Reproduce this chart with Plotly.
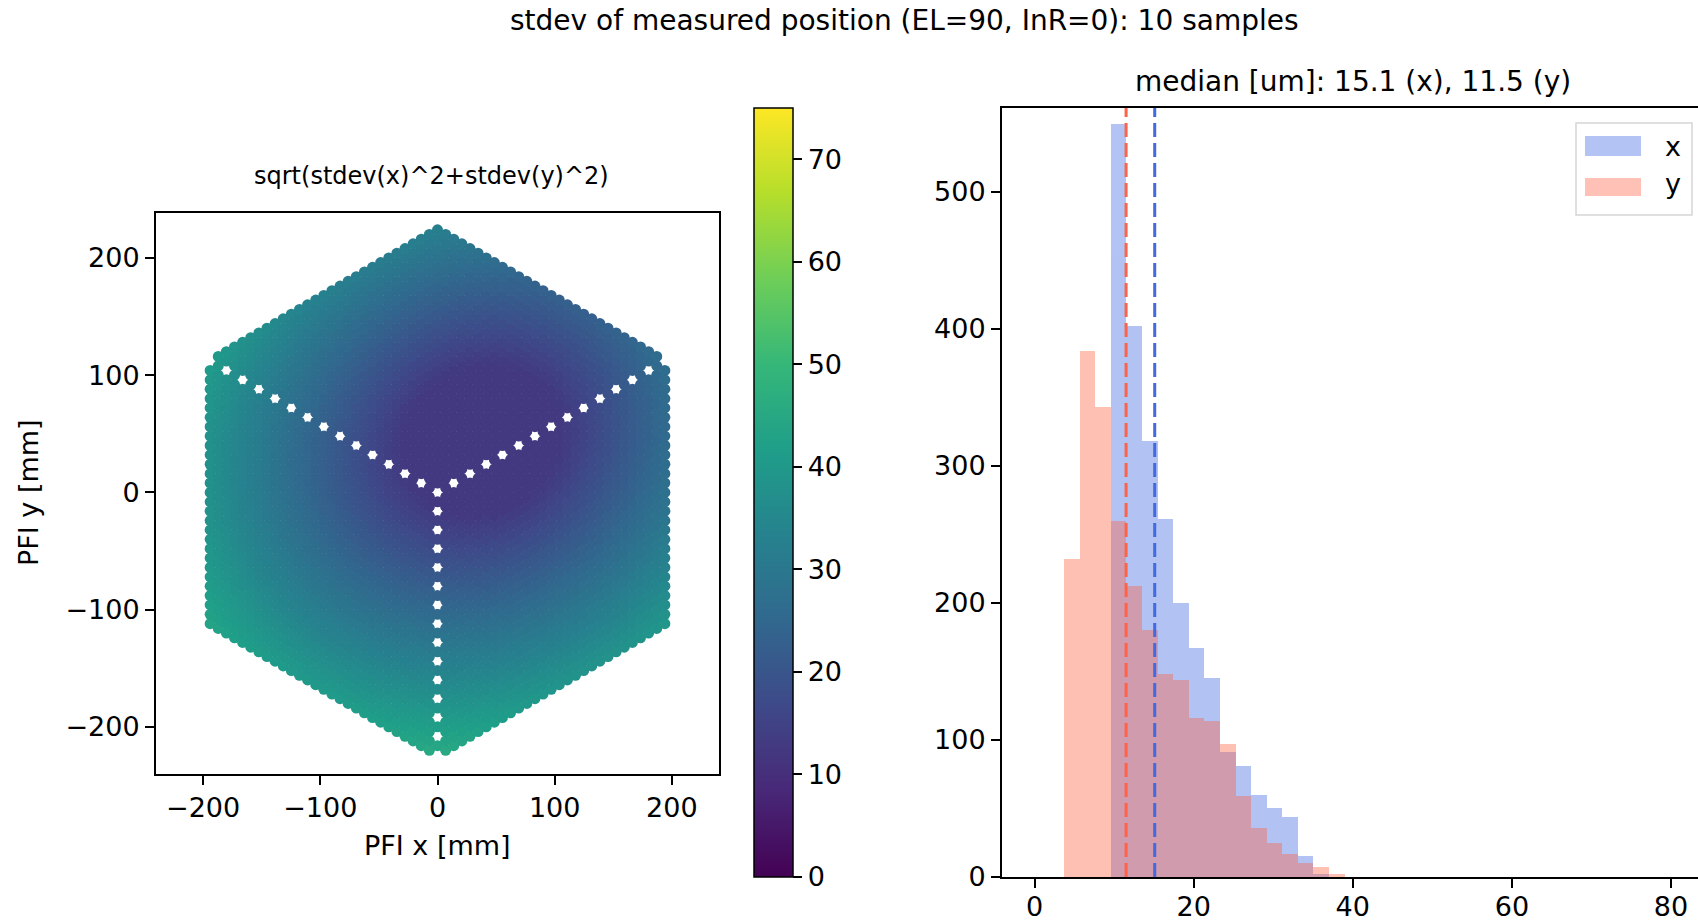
import numpy as np
import plotly.graph_objects as go

# ---------------- data ----------------
# Histogram of per-fiber stdev [um]; common bins
hist_bin_start = 3.7
hist_bin_width = 1.96
count_x = [0, 0, 0, 549, 402, 318, 261, 200, 167, 145, 91, 81, 60, 50, 44, 15, 2, 0]
count_y = [232, 384, 343, 260, 212, 180, 148, 144, 116, 114, 97, 59, 36, 25, 17, 10, 7, 2]
median_x = 15.1
median_y = 11.5

# Focal-plane layout (PFI, mm): triangular cobra lattice inside a hexagon
cobra_pitch = 8.0
hex_half_width = 195.0
hex_apex = 226.5
spoke_holes_per_arm = 15  # gaps along the three sector boundaries
visible_holes_per_arm = 14

# Colour-field readings taken from the map (x mm, y mm, value um)
field_probe_x = [0, 60, 0, -198, 198, -198, 0, 198, -110, 0, 110, 0, 0, 190, -190, -195, 195]
field_probe_y = [0, 40, 40, 40, 40, -80, -80, -80, 150, 150, 150, 225, -220, 110, 110, -105, -105]
field_probe_val = [13, 12.5, 13, 37, 25, 43, 16, 34, 33, 22, 20, 36, 42, 21, 36, 46, 44]
field_floor = 12.5

x_ticks_left = [-200, -100, 0, 100, 200]
y_ticks_left = [-200, -100, 0, 100, 200]
cbar_ticks = [0, 10, 20, 30, 40, 50, 60, 70]
hist_x_ticks = [0, 20, 40, 60, 80]
hist_y_ticks = [0, 100, 200, 300, 400, 500]

# ---------------- build lattice ----------------
dx = cobra_pitch * np.sqrt(3) / 2
px_list, py_list = [], []
holes = []
for n in range(spoke_holes_per_arm):
    holes.append((0.0, -2 * cobra_pitch * n))
    holes.append((-2 * dx * n, cobra_pitch * n))
    holes.append((2 * dx * n, cobra_pitch * n))
holes = np.array(holes)
vis = []
for n in range(visible_holes_per_arm):
    vis.append((0.0, -2 * cobra_pitch * n))
    if n > 0:
        vis.append((-2 * dx * n, cobra_pitch * n))
        vis.append((2 * dx * n, cobra_pitch * n))
vis = np.array(vis)
for k in range(-30, 31):
    xk = k * dx
    if abs(xk) > hex_half_width:
        continue
    off = (k % 2) * cobra_pitch / 2
    for m in range(-32, 33):
        yk = m * cobra_pitch + off
        if abs(yk) + abs(xk) / np.sqrt(3) > hex_apex:
            continue
        if np.min(np.hypot(holes[:, 0] - xk, holes[:, 1] - yk)) < 1.0:
            continue
        px_list.append(xk)
        py_list.append(yk)
fx = np.array(px_list)
fy = np.array(py_list)

# smooth quadratic fit of value^2 through the readings
bx = np.array(field_probe_x, float)
by = np.array(field_probe_y, float)
bv = np.array(field_probe_val, float)
A = np.column_stack([np.ones_like(bx), bx, by, bx**2, bx * by, by**2])
coef, *_ = np.linalg.lstsq(A, bv**2, rcond=None)
Af = np.column_stack([np.ones_like(fx), fx, fy, fx**2, fx * fy, fy**2])
fval = np.sqrt(np.clip(Af @ coef, field_floor**2, None))

# ---------------- figure ----------------
W, H = 1698, 923
def PX(x):
    return x / W
def PY(y):
    return 1 - y / H

FONT = "DejaVu Sans"
FS = 27

fig = go.Figure()

fig.add_trace(go.Scatter(
    x=fx, y=fy, mode="markers",
    marker=dict(size=11, color=fval, colorscale="Viridis", cmin=0, cmax=75,
                line=dict(width=0),
                colorbar=dict(x=PX(754), xanchor="left", y=PY(877), yanchor="bottom",
                              len=(877 - 108) / H, lenmode="fraction", thickness=39,
                              xpad=0, ypad=0, outlinewidth=1.5, outlinecolor="black",
                              ticks="outside", ticklen=9, tickwidth=2, tickcolor="black",
                              tickvals=cbar_ticks, tickfont=dict(family=FONT, size=FS, color="black"))),
    xaxis="x", yaxis="y", showlegend=False, hoverinfo="skip"))
fig.add_trace(go.Scatter(
    x=vis[:, 0], y=vis[:, 1], mode="markers",
    marker=dict(size=7, color="white", line=dict(width=0)),
    xaxis="x", yaxis="y", showlegend=False, hoverinfo="skip"))

centers = [hist_bin_start + hist_bin_width * (i + 0.5) for i in range(len(count_x))]
fig.add_trace(go.Bar(x=centers, y=count_x, width=hist_bin_width, name="x",
                     marker=dict(color="royalblue", line=dict(width=0)), opacity=0.4,
                     xaxis="x2", yaxis="y2", showlegend=False))
fig.add_trace(go.Bar(x=centers, y=count_y, width=hist_bin_width, name="y",
                     marker=dict(color="tomato", line=dict(width=0)), opacity=0.4,
                     xaxis="x2", yaxis="y2", showlegend=False))

axis_common = dict(showline=True, linecolor="black", linewidth=2, ticks="outside",
                   ticklen=9, tickwidth=2, tickcolor="black", showgrid=False, zeroline=False,
                   tickfont=dict(family=FONT, size=FS, color="black"))

fig.update_layout(
    width=W, height=H, autosize=False,
    margin=dict(l=0, r=0, t=0, b=0, pad=0, autoexpand=False),
    paper_bgcolor="white", plot_bgcolor="white",
    barmode="overlay", bargap=0,
    font=dict(family=FONT, size=FS, color="black"),
    xaxis=dict(domain=[PX(156), PX(719)], range=[-240.2, 240.2], tickvals=x_ticks_left,
               mirror=True, anchor="y", **axis_common),
    yaxis=dict(domain=[PY(774), PY(213)], range=[-240.2, 238.3], tickvals=y_ticks_left,
               mirror=True, anchor="x", **axis_common),
    xaxis2=dict(domain=[PX(1002), 1.0], range=[-4.1, 83.4], tickvals=hist_x_ticks,
                mirror=True, anchor="y2", ticklabelstandoff=-4, **axis_common),
    yaxis2=dict(domain=[PY(877), PY(108)], range=[0, 561], tickvals=hist_y_ticks,
                anchor="x2", **axis_common),
)

# median lines
fig.add_shape(type="line", xref="x2", yref="y2 domain", x0=median_y, x1=median_y, y0=0, y1=1,
              line=dict(color="tomato", width=3, dash="14px,6px"))
fig.add_shape(type="line", xref="x2", yref="y2 domain", x0=median_x, x1=median_x, y0=0, y1=1,
              line=dict(color="royalblue", width=3, dash="14px,6px"))

# legend (drawn to match wide patches)
fig.add_shape(type="rect", xref="paper", yref="paper", x0=PX(1576), x1=PX(1692), y0=PY(215), y1=PY(123),
              line=dict(color="#d5d5d5", width=1.5), fillcolor="rgba(255,255,255,0.85)")
fig.add_shape(type="rect", xref="paper", yref="paper", x0=PX(1585), x1=PX(1641), y0=PY(156), y1=PY(136),
              line=dict(width=0), fillcolor="royalblue", opacity=0.4)
fig.add_shape(type="rect", xref="paper", yref="paper", x0=PX(1585), x1=PX(1641), y0=PY(196), y1=PY(178),
              line=dict(width=0), fillcolor="tomato", opacity=0.4)

ann = [
    dict(text="stdev of measured position (EL=90, InR=0): 10 samples", x=PX(904), y=PY(20), size=28),
    dict(text="sqrt(stdev(x)^2+stdev(y)^2)", x=PX(432), y=PY(176), size=24),
    dict(text="median [um]: 15.1 (x), 11.5 (y)", x=PX(1353), y=PY(81), size=28),
    dict(text="PFI x [mm]", x=PX(437), y=PY(845), size=FS),
    dict(text="x", x=PX(1673), y=PY(146), size=FS),
    dict(text="y", x=PX(1673), y=PY(184), size=FS),
]
for a in ann:
    fig.add_annotation(text=a["text"], x=a["x"], y=a["y"], xref="paper", yref="paper",
                       showarrow=False, xanchor="center", yanchor="middle",
                       font=dict(family=FONT, size=a["size"], color="black"))
fig.add_annotation(text="PFI y [mm]", x=PX(29), y=PY(493), xref="paper", yref="paper",
                   showarrow=False, textangle=-90, xanchor="center", yanchor="middle",
                   font=dict(family=FONT, size=FS, color="black"))

fig.write_html("out.html", config={"displayModeBar": False},
               post_script="document.body.style.margin='0';document.body.style.overflow='hidden';")
